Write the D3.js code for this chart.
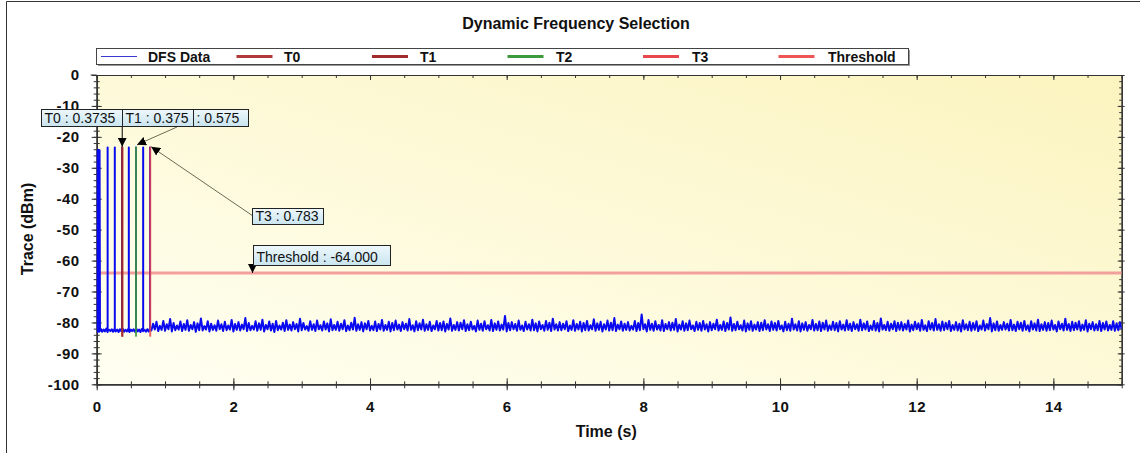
<!DOCTYPE html>
<html>
<head>
<meta charset="utf-8">
<script src="https://cdn.jsdelivr.net/npm/d3@7"></script>
<style>
  body { margin: 0; background: #fff; }
  svg text { font-family: "Liberation Sans", Arial, sans-serif; fill: #111; }
</style>
</head>
<body>
<div id="chart"></div>
<script>
//Chart data
var xTicks = [0, 2, 4, 6, 8, 10, 12, 14];
var yTicks = [0, -10, -20, -30, -40, -50, -60, -70, -80, -90, -100];

var seriesNames = ["DFS Data", "T0", "T1", "T2", "T3", "Threshold"];
var seriesColors = ["#3a3ad0", "#b03a3a", "#a02c2c", "#3c9a3c", "#e8474c", "#ef5555"];

var markerNames = ["T0", "T1", "T2", "T3"];
var markerTimes = [0.3735, 0.375, 0.575, 0.783];
var markerColors = ["#b0303a", "#9e2a2a", "#3c9a3c", "#e8474c"];
var markerTop = -23.2;
var markerBottom = -84.6;

var thresholdValue = -64;

//burst at the very start of the trace
var blockTimes = [0, 0.006, 0.012, 0.018, 0.024, 0.03, 0.036, 0.042, 0.048];
var blockValues = [-82, -24.5, -83, -24.2, -82.8, -24.6, -83, -24.3, -82.7];

//radar pulses
var pulseTimes = [0.16, 0.265, 0.37, 0.47, 0.575, 0.68, 0.78];
var pulseTop = -23.4;
var pulseBase = -82.6;

//quiet floor before 0.8 s (every 0.02 s from 0.06 s)
var earlyStart = 0.06, earlyStep = 0.02;
var earlyNoise = [-82.1, -83.0, -82.3, -82.9, -82.0, -83.1, -82.4, -82.8, -82.2, -83.0,
  -82.1, -82.9, -82.3, -83.1, -82.2, -82.8, -82.0, -83.0, -82.4, -82.9,
  -82.1, -83.1, -82.3, -82.8, -82.2, -83.0, -82.0, -82.9, -82.3, -83.1,
  -82.1, -82.8, -82.4, -83.0, -82.2, -82.9, -81.9];

//noise floor from 0.8 s to 15 s (every 0.025 s)
var lateStart = 0.8, lateStep = 0.025;
var lateNoise = [
  -82.6, -80.4, -82.3, -79.8, -82.8, -81.1, -82.4, -79.5, -82.7, -80.6, -82.2, -78.9, -82.9, -80.2, -82.5, -81.0, -82.3, -79.7, -82.8, -80.5,
  -82.4, -79.3, -82.7, -80.8, -82.2, -79.9, -83.0, -80.3, -82.5, -78.7, -82.6, -81.2, -82.3, -79.6, -82.9, -80.4, -82.4, -80.9, -82.7, -79.4,
  -82.2, -80.6, -82.8, -79.8, -82.5, -81.0, -82.3, -79.2, -82.9, -80.5, -82.4, -79.9, -82.6, -80.7, -82.2, -78.6, -82.8, -80.2, -82.5, -81.1,
  -82.3, -79.6, -82.7, -80.3, -82.4, -79.1, -82.9, -80.8, -82.2, -79.7, -82.6, -80.4, -83.1, -79.5, -82.5, -81.0, -82.3, -80.1, -82.8, -79.3,
  -82.4, -80.7, -82.6, -79.9, -82.2, -80.5, -82.9, -78.8, -82.5, -80.2, -82.3, -81.2, -82.7, -79.6, -82.4, -80.6, -82.8, -79.4, -82.2, -80.9,
  -82.6, -79.7, -82.3, -80.3, -82.9, -79.0, -82.5, -80.8, -82.4, -79.8, -82.7, -80.4, -82.2, -79.3, -82.8, -81.0, -82.5, -80.1, -82.3, -78.5,
  -82.7, -80.6, -82.4, -79.9, -82.9, -80.3, -82.2, -79.5, -82.6, -81.1, -82.5, -79.7, -82.8, -80.5, -82.3, -79.2, -82.7, -80.8, -82.4, -79.8,
  -82.9, -80.2, -82.5, -79.4, -82.3, -80.7, -82.8, -79.9, -82.2, -80.4, -82.6, -78.9, -82.4, -80.9, -82.9, -79.6, -82.5, -80.3, -82.3, -79.1,
  -82.7, -80.6, -82.4, -79.8, -82.8, -81.0, -82.2, -79.5, -82.6, -80.2, -82.5, -79.7, -82.9, -80.5, -82.3, -78.7, -82.7, -80.8, -82.4, -79.9,
  -82.6, -80.1, -82.2, -79.3, -82.8, -80.6, -82.5, -79.8, -82.3, -81.1, -82.9, -79.4, -82.4, -80.4, -82.7, -79.6, -82.2, -80.9, -82.6, -79.2,
  -82.8, -80.3, -82.4, -79.7, -82.6, -80.7, -82.3, -77.9, -82.9, -80.2, -82.5, -79.9, -82.2, -80.5, -82.7, -79.4, -82.4, -81.0, -82.8, -79.8,
  -82.3, -80.6, -82.6, -79.1, -82.5, -80.3, -82.9, -79.7, -82.2, -80.8, -82.7, -79.5, -82.4, -80.1, -82.8, -78.8, -82.3, -80.6, -82.6, -79.9,
  -82.5, -80.4, -82.2, -79.6, -82.8, -81.0, -82.4, -79.3, -82.7, -80.5, -82.3, -79.8, -82.9, -80.2, -82.5, -79.5, -82.6, -80.9, -82.2, -79.0,
  -82.7, -80.3, -82.4, -79.8, -82.9, -80.6, -82.3, -79.4, -82.6, -80.1, -82.5, -78.6, -82.8, -80.7, -82.2, -79.7, -82.7, -80.4, -82.4, -79.9,
  -82.6, -81.1, -82.3, -79.5, -82.8, -80.2, -82.5, -77.4, -82.2, -80.6, -82.9, -79.2, -82.4, -80.4, -82.7, -79.6, -82.3, -80.8, -82.6, -79.3,
  -82.8, -80.5, -82.2, -79.9, -82.6, -80.1, -82.4, -78.9, -82.9, -80.7, -82.3, -79.6, -82.7, -80.3, -82.5, -79.4, -82.2, -81.0, -82.8, -79.8,
  -82.4, -80.2, -82.7, -79.5, -82.3, -80.6, -82.9, -79.9, -82.5, -80.4, -82.2, -79.1, -82.6, -80.8, -82.4, -79.7, -82.8, -80.2, -82.3, -78.4,
  -82.7, -80.5, -82.5, -79.8, -82.2, -80.9, -82.6, -79.4, -82.9, -80.3, -82.4, -79.6, -82.7, -80.7, -82.3, -79.9, -82.8, -80.1, -82.5, -79.3,
  -82.3, -80.6, -82.8, -79.7, -82.4, -80.2, -82.6, -79.5, -82.2, -81.0, -82.9, -79.8, -82.5, -80.4, -82.7, -78.8, -82.3, -80.6, -82.6, -79.6,
  -82.9, -80.3, -82.4, -79.9, -82.7, -80.8, -82.2, -79.2, -82.6, -80.5, -82.5, -79.7, -82.8, -80.1, -82.3, -79.4, -82.7, -80.9, -82.4, -79.8,
  -82.5, -80.2, -82.9, -79.6, -82.3, -80.7, -82.6, -79.3, -82.4, -80.4, -82.8, -79.9, -82.2, -80.6, -82.7, -79.1, -82.5, -80.3, -82.3, -79.7,
  -82.8, -81.0, -82.4, -79.5, -82.6, -80.2, -82.9, -78.7, -82.3, -80.8, -82.5, -79.8, -82.7, -80.4, -82.2, -79.6, -82.8, -80.1, -82.4, -79.9,
  -82.6, -80.5, -82.3, -79.4, -82.9, -80.7, -82.5, -79.8, -82.2, -80.3, -82.7, -79.2, -82.4, -80.9, -82.8, -79.6, -82.3, -80.2, -82.6, -78.9,
  -82.4, -80.6, -82.7, -79.7, -82.5, -80.1, -82.2, -79.5, -82.8, -80.8, -82.4, -79.9, -82.6, -80.4, -82.9, -79.3, -82.3, -80.6, -82.5, -79.8,
  -82.7, -80.2, -82.4, -79.6, -82.8, -81.0, -82.3, -79.4, -82.6, -80.5, -82.2, -78.6, -82.9, -80.3, -82.5, -79.7, -82.7, -80.8, -82.4, -79.9,
  -82.3, -80.4, -82.6, -79.2, -82.5, -80.7, -82.8, -79.8, -82.2, -80.1, -82.7, -79.5, -82.4, -80.9, -82.9, -79.6, -82.3, -80.3, -82.6, -79.1,
  -82.8, -80.6, -82.4, -79.9, -82.7, -80.2, -82.5, -79.4, -82.3, -80.8, -82.9, -79.7, -82.2, -80.4, -82.6, -78.8, -82.4, -80.5, -82.8, -79.8,
  -82.5, -80.1, -82.3, -79.6, -82.7, -80.7, -82.4, -79.3, -82.9, -80.4, -82.2, -79.9, -82.6, -80.6, -82.5, -79.5, -82.8, -80.2, -82.3, -79.7,
  -82.6, -80.8, -82.4, -79.6, -82.7, -80.3, -82.5, -79.9, -82.2
];

//Set up chart
var svgWidth = 1140;
var svgHeight = 453;

var plot = { left: 96.7, right: 1121.7, top: 75, bottom: 384.3 };

var svg = d3.select("#chart").append("svg")
    .attr("width", svgWidth)
    .attr("height", svgHeight);

var x = d3.scaleLinear().domain([0, 15]).range([plot.left, plot.right]);
var y = d3.scaleLinear().domain([-100, 0]).range([plot.bottom, plot.top]);

var defs = svg.append("defs");

//plot background gradient
var bg = defs.append("linearGradient").attr("id", "plotBg")
    .attr("x1", "0%").attr("y1", "100%").attr("x2", "100%").attr("y2", "0%");
bg.append("stop").attr("offset", "0%").attr("stop-color", "#fffff2");
bg.append("stop").attr("offset", "100%").attr("stop-color", "#fbf4bf");

var boxBg = defs.append("linearGradient").attr("id", "boxBg")
    .attr("x1", "0%").attr("y1", "0%").attr("x2", "0%").attr("y2", "100%");
boxBg.append("stop").attr("offset", "0%").attr("stop-color", "#eef8fc");
boxBg.append("stop").attr("offset", "100%").attr("stop-color", "#c9e4ef");

defs.append("marker").attr("id", "arrow")
    .attr("viewBox", "0 0 10 10").attr("refX", 10).attr("refY", 5)
    .attr("markerWidth", 9).attr("markerHeight", 9)
    .attr("markerUnits", "userSpaceOnUse")
    .attr("orient", "auto")
  .append("path").attr("d", "M0,0L10,5L0,10Z").attr("fill", "#000");

defs.append("clipPath").attr("id", "plotClip")
  .append("rect")
    .attr("x", plot.left).attr("y", plot.top)
    .attr("width", plot.right - plot.left).attr("height", plot.bottom - plot.top);

//outer frame
svg.append("path")
    .attr("d", "M6.5,453V1.5H1140")
    .attr("fill", "none").attr("stroke", "#333").attr("stroke-width", 1);

svg.append("rect")
    .attr("x", plot.left).attr("y", plot.top)
    .attr("width", plot.right - plot.left).attr("height", plot.bottom - plot.top)
    .attr("fill", "url(#plotBg)");

//Title
svg.append("text")
    .attr("x", 576).attr("y", 29)
    .attr("text-anchor", "middle")
    .attr("font-size", "16px").attr("font-weight", "bold")
    .text("Dynamic Frequency Selection");

//Legend
var legend = svg.append("g");
legend.append("rect")
    .attr("x", 98).attr("y", 50).attr("width", 812).attr("height", 16)
    .attr("fill", "#999");
legend.append("rect")
    .attr("x", 96.5).attr("y", 48.5).attr("width", 812).attr("height", 16)
    .attr("fill", "#fff").attr("stroke", "#444");

seriesNames.forEach(function(name, i) {
    legend.append("line")
        .attr("x1", 101 + i * 135.5).attr("x2", 137 + i * 135.5)
        .attr("y1", 56.5).attr("y2", 56.5)
        .attr("stroke", seriesColors[i])
        .attr("stroke-width", i === 0 ? 1.2 : 3);
    legend.append("text")
        .attr("x", 148 + i * 136)
        .attr("y", 61.5)
        .attr("font-size", "14px").attr("font-weight", "bold")
        .text(name);
});

//Axes
var yMinor = d3.range(0, -101, -2);
var xMinor = d3.range(0, 15.01, 0.5);

function styleAxis(g) {
    g.select(".domain").attr("stroke", "#333");
    g.selectAll(".tick line").attr("stroke", "#333");
    g.selectAll(".tick text")
        .attr("font-size", "15px").attr("font-weight", "bold")
        .attr("font-family", "Liberation Sans, Arial, sans-serif")
        .attr("letter-spacing", "0.5px")
        .attr("fill", "#111");
}

var plainFormat = d => String(d);

var leftG = svg.append("g").attr("transform", `translate(${plot.left},0)`);
leftG.append("g").call(d3.axisLeft(y).tickValues(yTicks).tickSize(5).tickSizeOuter(0).tickPadding(12).tickFormat(plainFormat)).call(styleAxis);
leftG.append("g").call(d3.axisRight(y).tickValues(yTicks).tickSize(5).tickSizeOuter(0).tickFormat("")).call(styleAxis);
leftG.append("g").call(d3.axisLeft(y).tickValues(yMinor).tickSize(3).tickSizeOuter(0).tickFormat("")).call(styleAxis);
leftG.append("g").call(d3.axisRight(y).tickValues(yMinor).tickSize(3).tickSizeOuter(0).tickFormat("")).call(styleAxis);

var rightG = svg.append("g").attr("transform", `translate(${plot.right},0)`);
rightG.append("g").call(d3.axisLeft(y).tickValues(yTicks).tickSize(4).tickSizeOuter(0).tickFormat("")).call(styleAxis);
rightG.append("g").call(d3.axisRight(y).tickValues(yTicks).tickSize(3).tickSizeOuter(0).tickFormat("")).call(styleAxis);
rightG.append("g").call(d3.axisLeft(y).tickValues(yMinor).tickSize(2.5).tickSizeOuter(0).tickFormat("")).call(styleAxis);

var bottomG = svg.append("g").attr("transform", `translate(0,${plot.bottom})`);
bottomG.append("g").call(d3.axisBottom(x).tickValues(xTicks).tickSize(6).tickSizeOuter(0).tickPadding(11).tickFormat(plainFormat)).call(styleAxis);
bottomG.append("g").call(d3.axisTop(x).tickValues(xTicks).tickSize(6).tickSizeOuter(0).tickFormat("")).call(styleAxis);
bottomG.append("g").call(d3.axisBottom(x).tickValues(xMinor).tickSize(4).tickSizeOuter(0).tickFormat("")).call(styleAxis);
bottomG.append("g").call(d3.axisTop(x).tickValues(xMinor).tickSize(3).tickSizeOuter(0).tickFormat("")).call(styleAxis);

var topG = svg.append("g").attr("transform", `translate(0,${plot.top})`);
topG.append("g").call(d3.axisBottom(x).tickValues(xTicks).tickSize(5).tickSizeOuter(0).tickFormat("")).call(styleAxis);
topG.append("g").call(d3.axisBottom(x).tickValues(xMinor).tickSize(3).tickSizeOuter(0).tickFormat("")).call(styleAxis);
topG.append("line").attr("x1", plot.left - 6).attr("x2", plot.left).attr("stroke", "#333");

//Axis titles
svg.append("text")
    .attr("x", x(7.5) - 3).attr("y", 437)
    .attr("text-anchor", "middle")
    .attr("font-size", "16px").attr("font-weight", "bold")
    .text("Time (s)");

svg.append("text")
    .attr("transform", "translate(33,229) rotate(-90)")
    .attr("text-anchor", "middle")
    .attr("font-size", "16px").attr("font-weight", "bold")
    .text("Trace (dBm)");

//Build the DFS trace
var trace = [];
blockTimes.forEach(function(t, i) { trace.push([t, blockValues[i]]); });
earlyNoise.forEach(function(v, i) { trace.push([earlyStart + i * earlyStep, v]); });
pulseTimes.forEach(function(t) {
    trace.push([t, pulseBase], [t, pulseTop], [t, pulseBase]);
});
lateNoise.forEach(function(v, i) { trace.push([lateStart + i * lateStep, v]); });
trace.sort(function(a, b) { return a[0] - b[0]; });

var plotG = svg.append("g").attr("clip-path", "url(#plotClip)");

//Threshold
plotG.append("line")
    .attr("x1", x(0)).attr("x2", x(15))
    .attr("y1", y(thresholdValue)).attr("y2", y(thresholdValue))
    .attr("stroke", "#f3a09c").attr("stroke-width", 3);

var line = d3.line().x(d => x(d[0])).y(d => y(d[1]));

plotG.append("path")
    .datum(trace)
    .attr("d", line)
    .attr("fill", "none")
    .attr("stroke", "#0a0af0")
    .attr("stroke-width", 2)
    .attr("stroke-linejoin", "round");

//Marker lines
plotG.selectAll(".marker")
    .data(markerTimes)
    .enter()
    .append("line")
    .attr("x1", d => x(d)).attr("x2", d => x(d))
    .attr("y1", y(markerBottom)).attr("y2", y(markerTop))
    .attr("stroke", (d, i) => markerColors[i])
    .attr("stroke-width", 2)
    .attr("opacity", 0.85);

//Annotations
function labelBox(x0, y0, w, h, text) {
    svg.append("rect")
        .attr("x", x0).attr("y", y0).attr("width", w).attr("height", h)
        .attr("fill", "url(#boxBg)").attr("stroke", "#222").attr("stroke-width", 1);
    svg.append("text")
        .attr("x", x0 + 3).attr("y", y0 + h - 4)
        .attr("font-size", "14px")
        .attr("fill", "#1a1a1a")
        .text(text);
}

function arrow(x1, y1, x2, y2, color) {
    svg.append("line")
        .attr("x1", x1).attr("y1", y1).attr("x2", x2).attr("y2", y2)
        .attr("stroke", color).attr("stroke-width", 1)
        .attr("marker-end", "url(#arrow)");
}

arrow(x(markerTimes[0]), 127, x(markerTimes[0]), y(markerTop), "#000");
arrow(177, 127, x(markerTimes[2]) + 1, y(markerTop) - 2, "#6b6b55");
arrow(253, 216, x(markerTimes[3]) + 1, y(markerTop), "#6b6b55");
arrow(252.5, 266, 252.5, y(thresholdValue), "#000");

labelBox(41.5, 109.5, 81, 17, markerNames[0] + " : " + markerTimes[0]);
labelBox(193.5, 109.5, 55, 17, ": " + markerTimes[2].toFixed(3));
labelBox(122.5, 109.5, 71, 17, markerNames[1] + " : " + markerTimes[1]);
labelBox(252.5, 208.5, 71, 16, markerNames[3] + " : " + markerTimes[3]);
labelBox(253.5, 245.5, 137, 20, "Threshold : " + thresholdValue.toFixed(3));
</script>
</body>
</html>
